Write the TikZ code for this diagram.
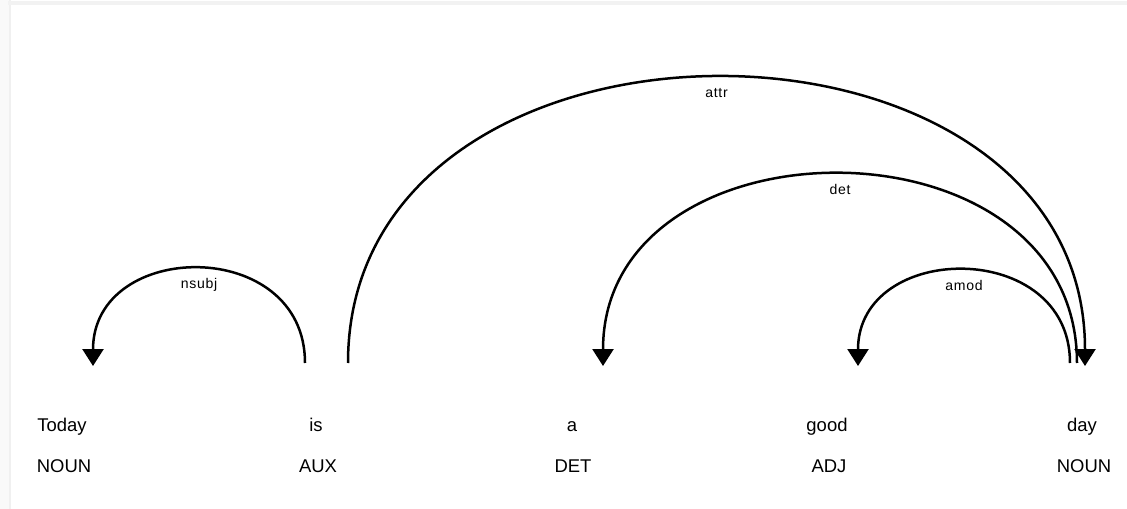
\documentclass[tikz,border=0pt]{standalone}
\usepackage{fontspec}
\setmainfont{Liberation Sans}
\usetikzlibrary{arrows.meta,positioning}

\begin{document}
\begin{tikzpicture}[
    x=0.2mm, y=-0.2mm,
    word/.style={font=\fontsize{10.5}{12}\selectfont, inner sep=0pt, anchor=base},
    tag/.style={word},
    dep/.style={draw=black, line width=0.5mm, -{Triangle[width=4.2mm,length=3.4mm]}},
    deplabel/.style={font=\fontsize{8}{9}\selectfont\addfontfeature{LetterSpace=5}, inner sep=0pt, anchor=base, yshift=-3.9mm}
]
\useasboundingbox (0,0) rectangle (1127,509);
% frame shadow
\fill[gray!5] (0,0) rectangle (11,509);
\fill[gray!12] (9,0) rectangle (11,509);
\fill[gray!10] (8,1) rectangle (1127,5);

% words and tags
\node [word] (w1) at (62,431) {Today};
\node [word] (w2) at (316,431) {is};
\node [word] (w3) at (572,431) {a};
\node [word] (w4) at (827,431) {good};
\node [word] (w5) at (1082,431) {day};
\node [tag] (t1) at (64,472) {NOUN};
\node [tag] (t2) at (318,472) {AUX};
\node [tag] (t3) at (573,472) {DET};
\node [tag] (t4) at (829,472) {ADJ};
\node [tag] (t5) at (1084,472) {NOUN};

% arc ends
\coordinate (today-in) at (93,366);
\coordinate (is-out1) at (305,363);
\coordinate (is-out2) at (348,363);
\coordinate (a-in) at (603,366);
\coordinate (good-in) at (858,366);
\coordinate (day-out1) at (1070,363);
\coordinate (day-out2) at (1077,363);
\coordinate (day-in) at (1085,366);

% dependencies
\draw [dep] (is-out1) .. controls +(0,-127) and +(0,-127) .. node[deplabel, pos=0.5] (l1) {nsubj} (today-in);
\draw [dep] (is-out2) .. controls +(0,-382) and +(0,-382) .. node[deplabel, pos=0.5] (l2) {attr} (day-in);
\draw [dep] (day-out2) .. controls +(0,-253) and +(0,-253) .. node[deplabel, pos=0.5] (l3) {det} (a-in);
\draw [dep] (day-out1) .. controls +(0,-125) and +(0,-125) .. node[deplabel, pos=0.5] (l4) {amod} (good-in);
\end{tikzpicture}
\end{document}
